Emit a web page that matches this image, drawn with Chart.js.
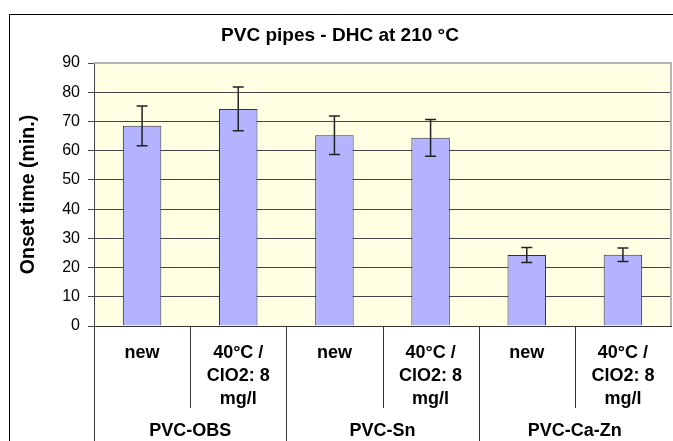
<!DOCTYPE html>
<html>
<head>
  <title>PVC pipes - DHC at 210 °C</title>
  <script src="https://cdn.jsdelivr.net/npm/chart.js"></script>
  <style>
    html, body { margin: 0; padding: 0; background: #fff; }
    #wrap { width: 673px; height: 441px; }
  </style>
</head>
<body>
  <div id="wrap"><canvas id="dhcChart"></canvas></div>

  <script>
    // data
    const categories = [['new'], ['40°C /', 'ClO2: 8', 'mg/l'], ['new'], ['40°C /', 'ClO2: 8', 'mg/l'], ['new'], ['40°C /', 'ClO2: 8', 'mg/l']];
    const groups = ['PVC-OBS', 'PVC-Sn', 'PVC-Ca-Zn'];
    const onsetTime = [68.5, 74.3, 65.3, 64.4, 24.3, 24.4];
    const onsetError = [6.8, 7.5, 6.6, 6.3, 2.6, 2.3];
    const yTicks = [0, 10, 20, 30, 40, 50, 60, 70, 80, 90];

    const FONT = '"Liberation Sans", Arial, sans-serif';

    // yellow plot background + grey frame on top/right, outer chart frame
    const plotBack = {
      id: 'plotBack',
      beforeDraw(chart) {
        const { ctx, chartArea: a } = chart;
        ctx.save();
        ctx.fillStyle = '#ffffe3';
        ctx.fillRect(a.left, a.top, a.right - a.left, a.bottom - a.top);
        ctx.strokeStyle = '#000';
        ctx.lineWidth = 1;
        ctx.beginPath();
        ctx.moveTo(9.5, chart.height + 5);
        ctx.lineTo(9.5, 14.5);
        ctx.lineTo(chart.width + 5, 14.5);
        ctx.stroke();
        ctx.restore();
      },
      afterDraw(chart) {
        const { ctx, chartArea: a } = chart;
        ctx.save();
        ctx.strokeStyle = '#b4b4b4';
        ctx.lineWidth = 2;
        ctx.beginPath();
        ctx.moveTo(a.left, a.top);
        ctx.lineTo(a.right, a.top);
        ctx.lineTo(a.right, a.bottom);
        ctx.stroke();
        ctx.restore();
      }
    };

    // category dividers and group labels under the x axis
    const groupAxis = {
      id: 'groupAxis',
      afterDraw(chart) {
        const { ctx, chartArea: a } = chart;
        const x = chart.scales.x;
        const step = x.getPixelForValue(1) - x.getPixelForValue(0);
        ctx.save();
        ctx.strokeStyle = '#333';
        ctx.lineWidth = 1;
        for (let i = 0; i < categories.length; i++) {
          const px = Math.round(x.getPixelForValue(i) - step / 2) + 0.5;
          ctx.beginPath();
          ctx.moveTo(px, a.bottom);
          ctx.lineTo(px, i % 2 === 0 ? chart.height : 408);
          ctx.stroke();
        }
        ctx.fillStyle = '#000';
        ctx.font = 'bold 18px ' + FONT;
        ctx.textAlign = 'center';
        ctx.textBaseline = 'middle';
        groups.forEach((g, j) => {
          const cx = (x.getPixelForValue(j * 2) + x.getPixelForValue(j * 2 + 1)) / 2;
          ctx.fillText(g, cx, 431);
        });
        ctx.restore();
      }
    };

    // error bars
    const errorBars = {
      id: 'errorBars',
      afterDatasetsDraw(chart) {
        const { ctx } = chart;
        const y = chart.scales.y;
        const meta = chart.getDatasetMeta(0);
        ctx.save();
        ctx.strokeStyle = '#222';
        ctx.lineWidth = 1.5;
        meta.data.forEach((bar, i) => {
          const top = y.getPixelForValue(onsetTime[i] + onsetError[i]);
          const bot = y.getPixelForValue(onsetTime[i] - onsetError[i]);
          const cx = bar.x;
          ctx.beginPath();
          ctx.moveTo(cx, top); ctx.lineTo(cx, bot);
          ctx.moveTo(cx - 5.5, top); ctx.lineTo(cx + 5.5, top);
          ctx.moveTo(cx - 5.5, bot); ctx.lineTo(cx + 5.5, bot);
          ctx.stroke();
        });
        ctx.restore();
      }
    };

    const ctx = document.getElementById('dhcChart').getContext('2d');
    new Chart(ctx, {
      type: 'bar',
      data: {
        labels: categories,
        datasets: [{
          data: onsetTime,
          backgroundColor: '#b3b3ff',
          borderColor: '#333',
          borderWidth: 1,
          barPercentage: 0.4,
          categoryPercentage: 1
        }]
      },
      options: {
        responsive: true,
        maintainAspectRatio: false,
        animation: false,
        layout: { padding: { left: 9, right: 2, top: 0, bottom: 0 } },
        plugins: {
          legend: { display: false },
          tooltip: { enabled: false },
          title: {
            display: true,
            text: 'PVC pipes - DHC at 210 °C',
            color: '#000',
            font: { family: FONT, size: 19, weight: 'bold' },
            padding: { top: 24, bottom: 16.2 }
          }
        },
        scales: {
          x: {
            grid: { display: false },
            border: { display: true, color: '#333', width: 1 },
            ticks: {
              color: '#000',
              padding: 8,
              maxRotation: 0,
              autoSkip: false,
              font: { family: FONT, size: 18, weight: 'bold', lineHeight: 1.27 }
            },
            afterFit(scale) { scale.height = 115; }
          },
          y: {
            min: 0,
            max: 90,
            afterBuildTicks(scale) { scale.ticks = yTicks.map(v => ({ value: v })); },
            grid: { color: '#444', lineWidth: 1, tickLength: 6, tickColor: '#444' },
            border: { display: true, color: '#444', width: 1 },
            ticks: {
              color: '#000',
              padding: 8,
              font: { family: FONT, size: 16 }
            },
            title: {
              display: true,
              text: 'Onset time (min.)',
              color: '#000',
              font: { family: FONT, size: 19.5, weight: 'bold' },
              padding: { top: 8, bottom: 0 }
            },
            afterFit(scale) { scale.width = 85; }
          }
        }
      },
      plugins: [plotBack, groupAxis, errorBars]
    });
  </script>
</body>
</html>
